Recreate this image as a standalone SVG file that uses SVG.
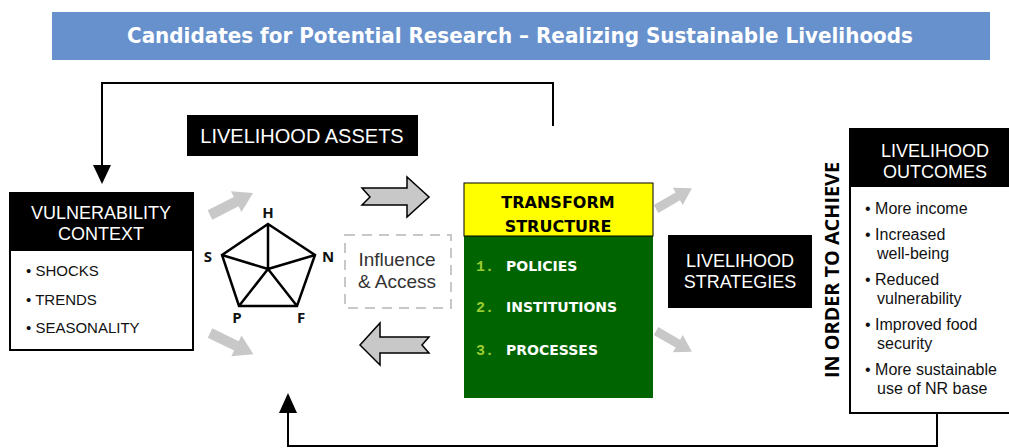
<svg xmlns="http://www.w3.org/2000/svg" width="1009" height="448" viewBox="0 0 1009 448">
<style>
.hdr{font-family:"Liberation Sans",Arial,sans-serif;fill:#fff;text-anchor:middle}
.blk{fill:#000}
.bul{font-family:"Liberation Sans",Arial,sans-serif;fill:#111}
.ga{fill:#c8c8c8}
.pl{font-family:"Open Sans","Noto Sans",sans-serif;font-weight:bold;font-size:15px;text-anchor:middle;fill:#111}
.ts{font-family:"DejaVu Sans",sans-serif;font-weight:bold;fill:#000;text-anchor:middle}
.it{font-family:"DejaVu Sans",sans-serif;font-weight:bold;font-size:14px;fill:#fff}
.num{font-family:"Liberation Mono",monospace;font-weight:bold;font-size:15px;fill:#9acd32}
.ln{fill:none;stroke:#000;stroke-width:2}
</style>
<defs>
<path id="garrow" d="M0,-5 L28,-5 L28,-11 L46,0 L28,11 L28,5 L0,5 z"/>
</defs>
<rect width="1009" height="448" fill="#fff"/>

<g id="title">
<rect x="52" y="12" width="938" height="48" fill="#6791cd"/>
<text x="520" y="43" font-family="DejaVu Sans Condensed,DejaVu Sans,sans-serif" font-weight="bold" font-size="21" fill="#fff" text-anchor="middle" textLength="786" lengthAdjust="spacingAndGlyphs">Candidates for Potential Research – Realizing Sustainable Livelihoods</text>
</g>

<g id="connectors">
<polyline class="ln" points="553,126 553,83 102,83 102,167"/>
<path d="M93,165 L111,165 L102,184 z" fill="#000"/>
<polyline class="ln" points="937,413 937,446 288,446 288,410"/>
<path d="M279,413 L297,413 L288,393 z" fill="#000"/>
<use href="#garrow" class="ga" transform="translate(210,215) rotate(-27) scale(1.05)"/>
<use href="#garrow" class="ga" transform="translate(210,333) rotate(26) scale(1.05)"/>
<use href="#garrow" class="ga" transform="translate(656,209) rotate(-30) scale(0.9)"/>
<use href="#garrow" class="ga" transform="translate(656,331) rotate(30) scale(0.9)"/>
<path d="M362,188 L407,188 L407,177 L429,197 L407,217 L407,205 L362,205 L370,197 z" fill="#c8c8c8" stroke="#000" stroke-width="1.5"/>
<path d="M360,345 L380,323 L380,337 L429,337 L422,345 L429,353 L380,353 L380,365 z" fill="#c8c8c8" stroke="#000" stroke-width="1.5"/>
</g>

<g id="livelihood-assets">
<rect x="187" y="115" width="231" height="41" class="blk"/>
<text class="hdr" x="302" y="143" font-size="20">LIVELIHOOD ASSETS</text>
</g>

<g id="vulnerability-context">
<rect x="10" y="193" width="183" height="157" fill="#fff" stroke="#000" stroke-width="2"/>
<rect x="10" y="193" width="183" height="58" class="blk"/>
<text class="hdr" x="101" y="219" font-size="18">VULNERABILITY</text>
<text class="hdr" x="101" y="240" font-size="18">CONTEXT</text>
<text class="bul" x="26" y="276" font-size="15">• SHOCKS</text>
<text class="bul" x="26" y="305" font-size="15">• TRENDS</text>
<text class="bul" x="26" y="333" font-size="15">• SEASONALITY</text>
</g>

<g id="pentagon">
<path d="M268,224 L315,255 L297,306 L239,306 L222,255 z M268,224 L268,269 L315,255 M268,269 L297,306 M268,269 L239,306 M268,269 L222,255" fill="none" stroke="#000" stroke-width="2.5" stroke-linejoin="miter"/>
<text class="pl" x="268" y="218">H</text>
<text class="pl" x="208" y="262">S</text>
<text class="pl" x="328" y="262">N</text>
<text class="pl" x="237" y="323">P</text>
<text class="pl" x="301" y="323">F</text>
</g>

<g id="influence-access">
<rect x="345" y="235" width="106" height="73" fill="none" stroke="#c8c8c8" stroke-width="2" stroke-dasharray="10,7"/>
<text x="397" y="266" font-family="Liberation Sans,Arial,sans-serif" font-size="19" fill="#333" text-anchor="middle">Influence</text>
<text x="397" y="288" font-family="Liberation Sans,Arial,sans-serif" font-size="19" fill="#333" text-anchor="middle">&amp; Access</text>
</g>

<g id="transform-structure">
<rect x="464" y="236" width="189" height="162" fill="#006400"/>
<rect x="464" y="183" width="189" height="53" fill="#ffff00" stroke="#000" stroke-width="1"/>
<text class="ts" x="558" y="208" font-size="16">TRANSFORM</text>
<text class="ts" x="558" y="232" font-size="16">STRUCTURE</text>
<text class="num" x="476" y="271">1.</text>
<text class="it" x="506" y="271">POLICIES</text>
<text class="num" x="476" y="312">2.</text>
<text class="it" x="506" y="312">INSTITUTIONS</text>
<text class="num" x="476" y="355">3.</text>
<text class="it" x="506" y="355">PROCESSES</text>
</g>

<g id="livelihood-strategies">
<rect x="668" y="235" width="144" height="73" class="blk"/>
<text class="hdr" x="740" y="267" font-size="18">LIVELIHOOD</text>
<text class="hdr" x="740" y="288" font-size="18">STRATEGIES</text>
</g>

<g id="in-order-to-achieve">
<text transform="translate(839,270) rotate(-90)" x="0" y="0" font-family="Open Sans,Noto Sans,sans-serif" font-weight="bold" font-size="19" fill="#000" text-anchor="middle" textLength="216" lengthAdjust="spacingAndGlyphs">IN ORDER TO ACHIEVE</text>
</g>

<g id="livelihood-outcomes">
<rect x="850" y="129" width="170" height="284" fill="#fff" stroke="#000" stroke-width="2"/>
<rect x="850" y="129" width="170" height="58" class="blk"/>
<text class="hdr" x="935" y="157" font-size="18">LIVELIHOOD</text>
<text class="hdr" x="935" y="178" font-size="18">OUTCOMES</text>
<text class="bul" x="865" y="214" font-size="16">• More income</text>
<text class="bul" x="865" y="240" font-size="16">• Increased</text>
<text class="bul" x="877" y="259" font-size="16">well-being</text>
<text class="bul" x="865" y="285" font-size="16">• Reduced</text>
<text class="bul" x="877" y="304" font-size="16">vulnerability</text>
<text class="bul" x="865" y="330" font-size="16">• Improved food</text>
<text class="bul" x="877" y="349" font-size="16">security</text>
<text class="bul" x="865" y="375" font-size="16">• More sustainable</text>
<text class="bul" x="877" y="394" font-size="16">use of NR base</text>
</g>
</svg>
